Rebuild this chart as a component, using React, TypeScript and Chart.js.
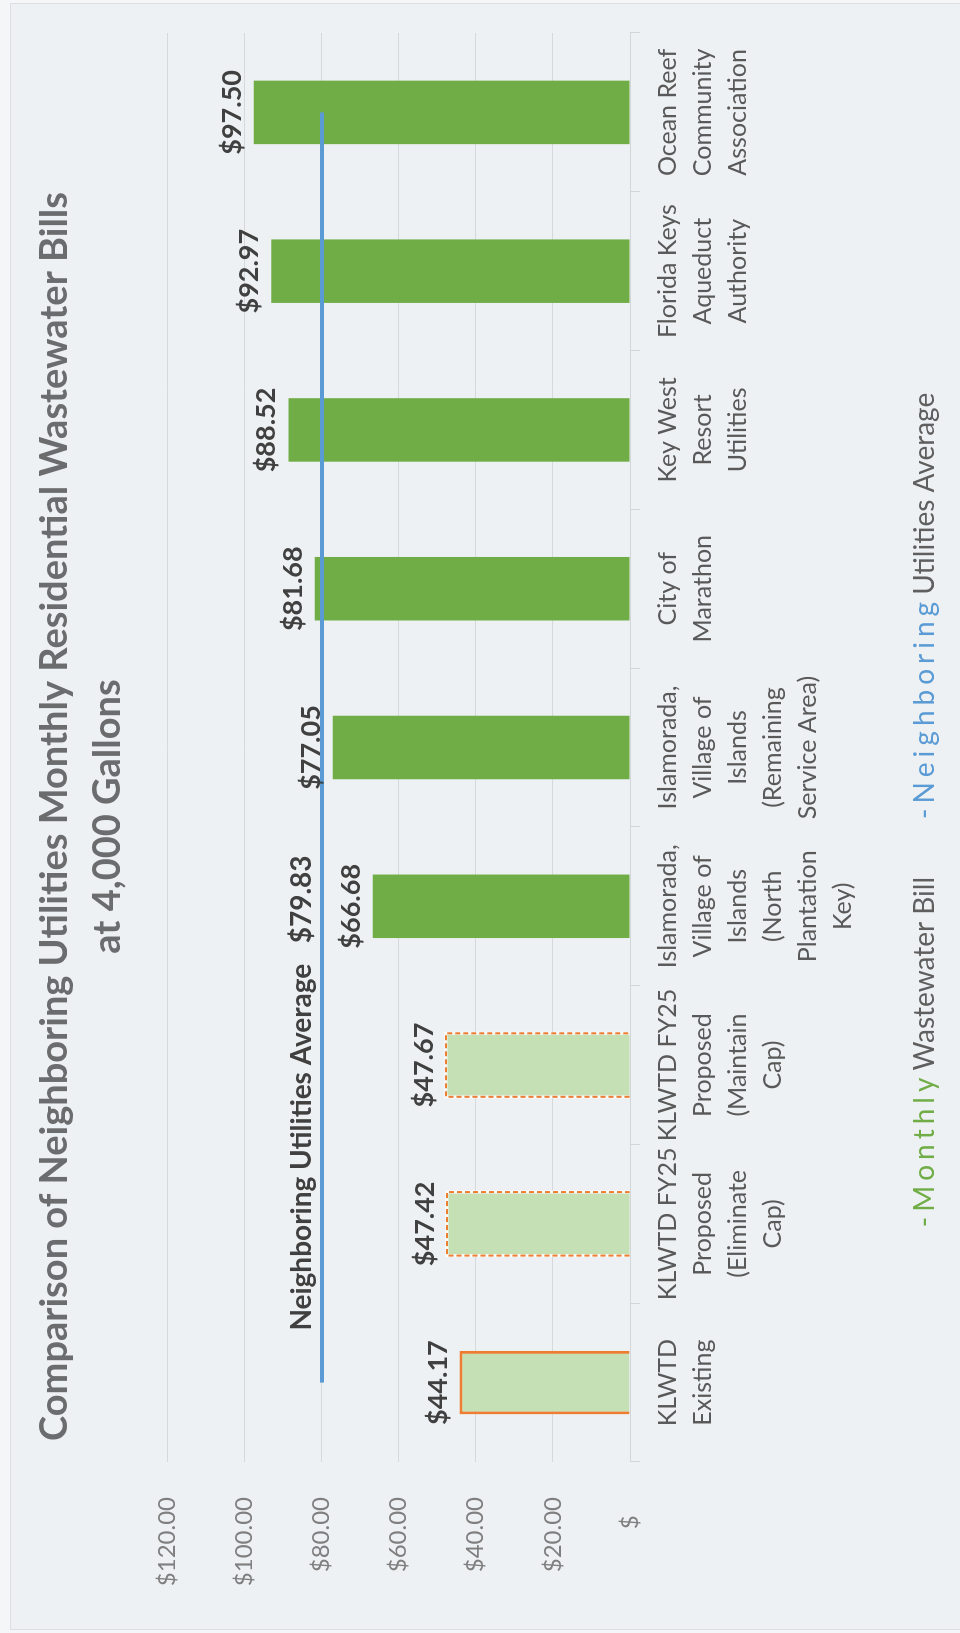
import React, { useEffect, useRef } from 'react';
import { Chart, registerables } from 'chart.js';

Chart.register(...registerables);

// ---------- data ----------
const categories: string[][] = [
  ['KLWTD', 'Existing'],
  ['KLWTD FY25', 'Proposed', '(Eliminate', 'Cap)'],
  ['KLWTD FY25', 'Proposed', '(Maintain', 'Cap)'],
  ['Islamorada,', 'Village of', 'Islands', '(North', 'Plantation', 'Key)'],
  ['Islamorada,', 'Village of', 'Islands', '(Remaining', 'Service Area)'],
  ['City of', 'Marathon'],
  ['Key West', 'Resort', 'Utilities'],
  ['Florida Keys', 'Aqueduct', 'Authority'],
  ['Ocean Reef', 'Community', 'Association'],
];
const monthlyBill: number[] = [44.17, 47.42, 47.67, 66.68, 77.05, 81.68, 88.52, 92.97, 97.5];
const neighborAverage: number[] = [79.83, 79.83, 79.83, 79.83, 79.83, 79.83, 79.83, 79.83, 79.83];
const averageLabel = 'Neighboring Utilities Average   $79.83';
const valueMin = 0;
const valueMax = 120;
const valueStep = 20;
const titleLines: string[] = [
  'Comparison of Neighboring Utilities Monthly Residential Wastewater Bills',
  'at 4,000 Gallons',
];
const legendLeads: string[] = ['-Monthly', '-Neighboring'];
const legendRests: string[] = ['Wastewater Bill', 'Utilities Average'];

// ---------- styles ----------
const W = 1633;
const H = 960;
const GREEN = '#70ad47';
const LIGHT_GREEN = '#c5e0b4';
const ORANGE = '#ed7d31';
const BLUE = '#5b9bd5';
const BG = '#eef1f3';
const FONT = 'Lato, "Open Sans", sans-serif';

const fmt = (v: number) => '$' + v.toFixed(2);

const backgroundPlugin = {
  id: 'bgFrame',
  beforeDraw(chart: any) {
    const ctx = chart.ctx;
    ctx.save();
    ctx.fillStyle = '#f4f6f7';
    ctx.fillRect(0, 0, W, H);
    ctx.fillStyle = BG;
    ctx.fillRect(3, 10, W - 6, H - 10);
    ctx.strokeStyle = '#dcdfe1';
    ctx.lineWidth = 1;
    ctx.strokeRect(3.5, 10.5, W - 7, H - 10);
    ctx.restore();
  },
};

const titlePlugin = {
  id: 'titleText',
  afterDraw(chart: any) {
    const ctx = chart.ctx;
    ctx.save();
    ctx.fillStyle = '#6b6c6e';
    ctx.font = `bold 38px ${FONT}`;
    ctx.textAlign = 'center';
    ctx.textBaseline = 'alphabetic';
    titleLines.forEach((line, i) => {
      ctx.fillText(line, W / 2, 67 + i * 53);
    });
    ctx.restore();
  },
};

const dashedBorderPlugin = {
  id: 'dashedBorders',
  afterDatasetsDraw(chart: any) {
    const meta = chart.getDatasetMeta(0);
    const ctx = chart.ctx;
    ctx.save();
    meta.data.forEach((el: any, i: number) => {
      if (i !== 1 && i !== 2) return;
      const { x, y, base, width } = el.getProps(['x', 'y', 'base', 'width'], true);
      const l = x - width / 2;
      const r = x + width / 2;
      ctx.beginPath();
      ctx.moveTo(l, base);
      ctx.lineTo(l, y);
      ctx.lineTo(r, y);
      ctx.lineTo(r, base);
      ctx.lineWidth = 3;
      ctx.strokeStyle = 'rgba(255,255,255,0.8)';
      ctx.setLineDash([]);
      ctx.stroke();
      ctx.lineWidth = 2;
      ctx.strokeStyle = ORANGE;
      ctx.setLineDash([5, 3]);
      ctx.stroke();
    });
    ctx.restore();
  },
};

const labelPlugin = {
  id: 'valueLabels',
  afterDatasetsDraw(chart: any) {
    const ctx = chart.ctx;
    const meta = chart.getDatasetMeta(0);
    ctx.save();
    ctx.fillStyle = '#404040';
    ctx.font = `bold 27px ${FONT}`;
    ctx.textAlign = 'center';
    ctx.textBaseline = 'alphabetic';
    meta.data.forEach((el: any, i: number) => {
      const { x, y } = el.getProps(['x', 'y'], true);
      ctx.fillText(fmt(monthlyBill[i]), x, y - 13);
    });
    const xs = chart.scales.x;
    const ys = chart.scales.y;
    ctx.font = `bold 28px ${FONT}`;
    ctx.fillText(averageLabel, xs.getPixelForValue(2) - 28, ys.getPixelForValue(neighborAverage[2]) - 11);
    ctx.restore();
  },
};

const legendPlugin = {
  id: 'customLegend',
  afterDraw(chart: any) {
    const ctx = chart.ctx;
    ctx.save();
    ctx.font = `28px ${FONT}`;
    ctx.textBaseline = 'alphabetic';
    ctx.textAlign = 'left';
    const spacing = 5;
    const gap = 53;
    const leadColors = [GREEN, BLUE];
    const spacedWidth = (t: string) =>
      t.split('').reduce((a, ch) => a + ctx.measureText(ch).width + spacing, 0);
    const widths = legendLeads.map(
      (lead, i) => spacedWidth(lead) + ctx.measureText(' ' + legendRests[i]).width
    );
    const total = widths.reduce((a, b) => a + b, 0) + gap * (widths.length - 1);
    let x = W / 2 + 9 - total / 2;
    const yBase = 934;
    legendLeads.forEach((lead, i) => {
      ctx.fillStyle = leadColors[i];
      let cx = x;
      lead.split('').forEach((ch) => {
        ctx.fillText(ch, cx, yBase);
        cx += ctx.measureText(ch).width + spacing;
      });
      ctx.fillStyle = '#5f5f5f';
      ctx.fillText(' ' + legendRests[i], cx - spacing, yBase);
      x += widths[i] + gap;
    });
    ctx.restore();
  },
};

export default function App() {
  const canvasRef = useRef<HTMLCanvasElement | null>(null);

  useEffect(() => {
    document.body.style.margin = '0';
    document.documentElement.style.overflow = 'hidden';
    const canvas = canvasRef.current;
    if (!canvas) return;
    const chart = new Chart(canvas, {
      type: 'bar',
      data: {
        labels: categories,
        datasets: [
          {
            type: 'bar',
            label: 'Monthly Wastewater Bill',
            data: monthlyBill,
            backgroundColor: monthlyBill.map((_, i) => (i < 3 ? LIGHT_GREEN : GREEN)),
            borderColor: ORANGE,
            borderWidth: monthlyBill.map((_, i) => (i === 0 ? 3 : 0)),
            borderSkipped: 'start',
            barPercentage: 0.4,
            categoryPercentage: 1,
            order: 1,
          } as any,
          {
            type: 'line',
            label: 'Neighboring Utilities Average',
            data: neighborAverage,
            borderColor: BLUE,
            backgroundColor: BLUE,
            borderWidth: 4,
            pointRadius: 0,
            fill: false,
            order: 0,
          } as any,
        ],
      },
      options: {
        responsive: false,
        animation: false,
        devicePixelRatio: 1,
        layout: { padding: { top: 167, right: 33, left: 0, bottom: 0 } },
        plugins: {
          legend: { display: false },
          title: { display: false },
          tooltip: { enabled: false },
        },
        scales: {
          x: {
            type: 'category',
            offset: true,
            grid: {
              display: true,
              drawOnChartArea: false,
              drawTicks: true,
              tickLength: 10,
              color: '#d3d6d8',
              offset: true,
            },
            border: { display: true, color: '#d3d6d8', width: 1 },
            ticks: {
              autoSkip: false,
              maxRotation: 0,
              minRotation: 0,
              padding: 10,
              color: '#595959',
              font: { family: FONT, size: 25, lineHeight: 1.4 },
            },
            afterFit: (s: any) => {
              s.height = 330;
            },
          },
          y: {
            min: valueMin,
            max: valueMax,
            ticks: {
              stepSize: valueStep,
              padding: 35,
              color: '#7f7f7f',
              font: { family: FONT, size: 24 },
              callback: (v: any) => (Number(v) === 0 ? '$   ' : fmt(Number(v))),
            },
            grid: { color: '#d6d9db', drawTicks: false, lineWidth: 1 },
            border: { display: false },
            afterFit: (s: any) => {
              s.width = 171;
            },
          },
        },
      } as any,
      plugins: [backgroundPlugin, titlePlugin, dashedBorderPlugin, labelPlugin, legendPlugin],
    });
    return () => chart.destroy();
  }, []);

  return (
    <div
      style={{
        position: 'absolute',
        left: 0,
        top: 0,
        width: W,
        height: H,
        transformOrigin: '0 0',
        transform: `translate(0px, ${W}px) rotate(-90deg)`,
      }}
    >
      <canvas ref={canvasRef} width={W} height={H} style={{ width: W, height: H, display: 'block' }} />
    </div>
  );
}
